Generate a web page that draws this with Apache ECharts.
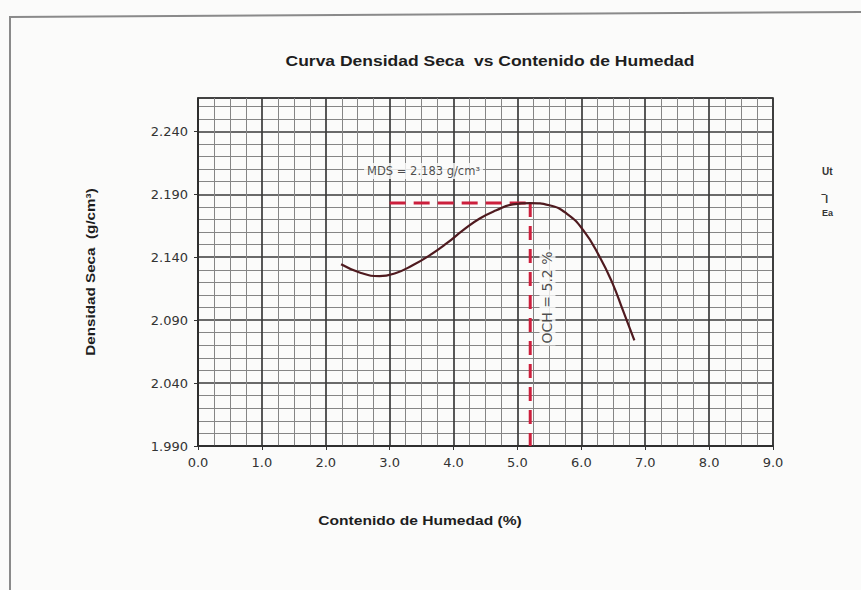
<!DOCTYPE html>
<html>
<head>
<meta charset="utf-8">
<script src="https://cdn.jsdelivr.net/npm/echarts@6/dist/echarts.min.js"></script>
<style>html,body{margin:0;padding:0;background:#fbfbfa;}#c{width:861px;height:590px;}</style>
</head>
<body>
<div id="c"></div>
<script>
// ---- data ----
const titleText = 'Curva Densidad Seca  vs Contenido de Humedad';
const xAxisName = 'Contenido de Humedad (%)';
const yAxisName = 'Densidad Seca  (g/cm³)';
const xTicks = [0, 1, 2, 3, 4, 5, 6, 7, 8, 9];
const yTicks = [1.990, 2.040, 2.090, 2.140, 2.190, 2.240];
const moisture = [2.24, 2.55, 2.84, 3.10, 3.36, 3.63, 3.89, 4.15, 4.41, 4.67, 4.93, 5.20, 5.50, 5.77, 6.03, 6.29, 6.49, 6.65, 6.83];
const density  = [2.1344, 2.1275, 2.1249, 2.1275, 2.1336, 2.1416, 2.1509, 2.1615, 2.1708, 2.1773, 2.1820, 2.1830, 2.1813, 2.1747, 2.1615, 2.1400, 2.1190, 2.0979, 2.0740];
const mdsValue = 2.183;
const ochValue = 5.2;
const dashStartX = 3.0;
const mdsLabel = 'MDS = 2.183 g/cm³';
const ochLabel = 'OCH = 5.2 %';
const sideTexts = ['Ut', '‾I', 'Ea'];

const yMin = yTicks[0];
const yMax = 2.2665;

const chart = echarts.init(document.getElementById('c'), null, {renderer: 'svg'});
const font = 'Liberation Sans, Arial, sans-serif';
const tickFont = 'DejaVu Sans, sans-serif';
const curve = moisture.map((x, i) => [x, density[i]]);
const bg = '#fbfbfa';

chart.setOption({
  animation: false,
  backgroundColor: bg,
  grid: {left: 198, top: 98, right: 88, bottom: 144, show: true, borderColor: '#2a2a2a', borderWidth: 1.6, backgroundColor: 'transparent'},
  xAxis: {
    type: 'value', min: xTicks[0], max: xTicks[xTicks.length - 1], interval: 1,
    axisLine: {show: true, lineStyle: {color: '#2a2a2a', width: 1.6}},
    axisTick: {show: true, length: 4, lineStyle: {color: '#333'}},
    axisLabel: {fontFamily: tickFont, fontSize: 13, color: '#333', margin: 10, formatter: v => v.toFixed(1)},
    splitLine: {show: true, lineStyle: {color: '#3a3a3a', width: 1.7}},
    minorTick: {show: false, splitNumber: 4},
    minorSplitLine: {show: true, lineStyle: {color: '#858585', width: 1}}
  },
  yAxis: {
    type: 'value', min: yMin, max: yMax, interval: 0.05,
    axisLine: {show: true, lineStyle: {color: '#2a2a2a', width: 1.6}},
    axisTick: {show: true, length: 4, lineStyle: {color: '#333'}},
    axisLabel: {fontFamily: tickFont, fontSize: 13, color: '#333', margin: 10, showMaxLabel: false,
      formatter: v => (Math.abs(v - yMax) < 1e-6 ? '' : v.toFixed(3))},
    splitLine: {show: true, lineStyle: {color: '#3a3a3a', width: 1.7}},
    minorTick: {show: false, splitNumber: 5},
    minorSplitLine: {show: true, lineStyle: {color: '#858585', width: 1}}
  },
  series: [
    {
      type: 'line', data: [[dashStartX, mdsValue], [ochValue, mdsValue]],
      symbol: 'none', lineStyle: {color: '#cc1f3c', width: 3, type: [16, 8]}, z: 3
    },
    {
      type: 'line', data: [[ochValue, mdsValue], [ochValue, yMin]],
      symbol: 'none', lineStyle: {color: '#cc1f3c', width: 3, type: [14, 9]}, z: 3
    },
    {
      type: 'line', data: curve, smooth: 0.5, symbol: 'none',
      lineStyle: {color: '#4f1a1f', width: 2.2}, z: 4
    },
    {
      type: 'scatter', symbolSize: 0, silent: true, z: 5,
      data: [[dashStartX + 0.53, mdsValue + 0.0255]],
      label: {show: true, position: 'inside', formatter: mdsLabel,
        fontFamily: tickFont, fontSize: 11.5, color: '#1e1e1e',
        backgroundColor: bg, padding: [2, 3]}
    },
    {
      type: 'scatter', symbolSize: 0, silent: true, z: 5,
      data: [[ochValue + 0.27, 2.108]],
      label: {show: true, position: 'inside', rotate: 90, formatter: ochLabel,
        fontFamily: tickFont, fontSize: 14, color: '#1e1e1e',
        backgroundColor: bg, padding: [1, 2]}
    }
  ],
  graphic: [
    {type: 'line', shape: {x1: 10, y1: 17, x2: 861, y2: 12}, style: {stroke: '#8a8a8a', lineWidth: 2}},
    {type: 'line', shape: {x1: 10, y1: 16, x2: 10, y2: 590}, style: {stroke: '#8a8a8a', lineWidth: 2}},
    {type: 'text', x: 490, y: 61, scaleX: 1.25,
      style: {text: titleText, font: 'bold 14px Liberation Sans', fill: '#1e1e1e', align: 'center', verticalAlign: 'middle'}},
    {type: 'text', x: 420, y: 521, scaleX: 1.3,
      style: {text: xAxisName, font: 'bold 12px Liberation Sans', fill: '#1e1e1e', align: 'center', verticalAlign: 'middle'}},
    {type: 'text', x: 91, y: 272, rotation: Math.PI / 2, scaleX: 1.27,
      style: {text: yAxisName, font: 'bold 12px Liberation Sans', fill: '#1e1e1e', align: 'center', verticalAlign: 'middle'}},
    {type: 'text', x: 822, y: 171, style: {text: sideTexts[0], font: 'bold 10px Liberation Sans', fill: '#333', verticalAlign: 'middle'}},
    {type: 'text', x: 822, y: 199, style: {text: sideTexts[1], font: 'bold 10px Liberation Sans', fill: '#333', verticalAlign: 'middle'}},
    {type: 'text', x: 822, y: 213, style: {text: sideTexts[2], font: 'bold 9px Liberation Sans', fill: '#333', verticalAlign: 'middle'}}
  ]
});
</script>
</body>
</html>
